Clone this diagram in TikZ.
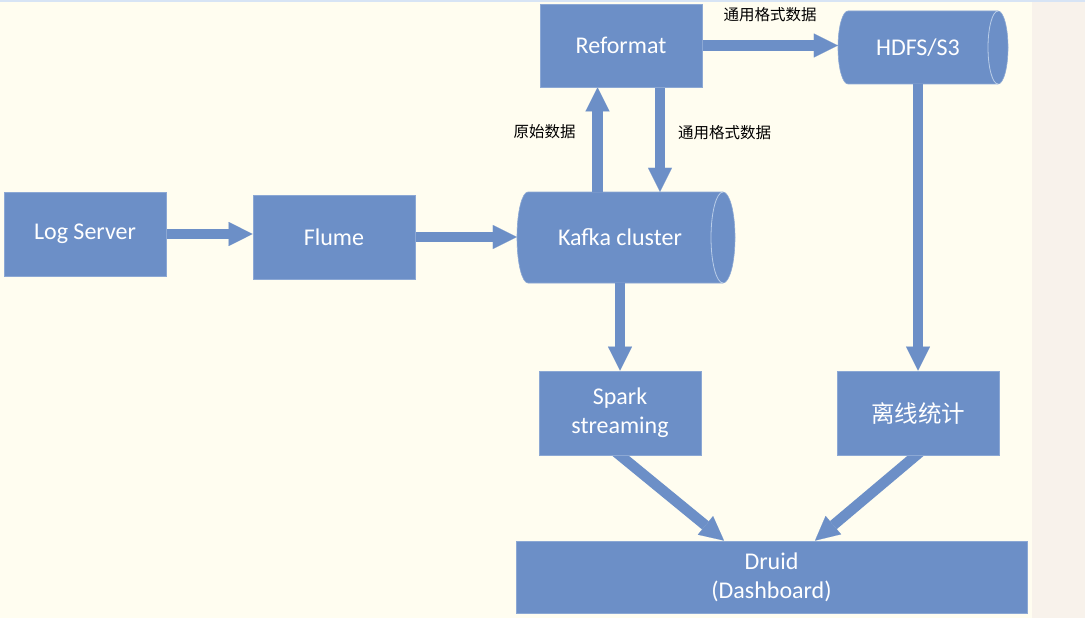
\documentclass[tikz,border=0pt]{standalone}
\usepackage{fontspec}
\setmainfont{Carlito}
\newfontfamily\cjk{Noto Sans CJK SC}
\usetikzlibrary{arrows.meta,backgrounds}
\definecolor{boxblue}{RGB}{108,143,199}
\definecolor{edgeblue}{RGB}{140,168,212}
\definecolor{innerline}{RGB}{185,205,232}
\definecolor{bgcream}{RGB}{255,253,240}
\definecolor{bgstrip}{RGB}{248,242,235}
\definecolor{topline}{RGB}{215,228,245}
\begin{document}
\begin{tikzpicture}[x=1pt,y=-1pt,
  box/.style={draw=edgeblue, line width=0.8pt, fill=boxblue, text=white,
    font=\fontsize{24}{29}\selectfont, align=center, inner sep=0pt},
  cylnode/.style={inner sep=0pt, text=white, font=\fontsize{24}{29}\selectfont},
  flow/.style={line width=10.5pt, draw=boxblue,
    -{Triangle[width=24pt,length=24pt,line width=0.1pt]}},
  lbl/.style={font=\cjk\fontsize{15.5}{18}\selectfont, text=black, inner sep=0pt},
  cylbody/.style={fill=boxblue, draw=edgeblue, line width=0.6pt},
  cylrim/.style={draw=innerline, line width=0.8pt}
]
\useasboundingbox (0,0) rectangle (1085,618);

% nodes
\node[box, minimum width=162pt, minimum height=84pt] (log) at (85,234) {Log Server};
\node[box, minimum width=162pt, minimum height=84pt] (flume) at (334,237) {Flume};
\node[box, minimum width=162pt, minimum height=83pt] (reformat) at (621,45.5) {Reformat};
\node[cylnode, minimum width=206pt, minimum height=91pt] (kafka) at (620,237.5) {Kafka cluster};
\node[cylnode, minimum width=160pt, minimum height=73pt] (hdfs) at (918,47.5) {HDFS/S3};
\node[box, minimum width=162pt, minimum height=84pt] (spark) at (620,413) {Spark\\streaming};
\node[box, minimum width=162pt, minimum height=84pt, font=\cjk\fontsize{23.5}{28}\selectfont] (offline) at (918,413) {离线统计};
\node[box, minimum width=511pt, minimum height=72pt] (druid) at (771.5,577) {Druid\\(Dashboard)};

% labels
\node[lbl] (l1) at (770,15) {通用格式数据};
\node[lbl] (l2) at (544.5,132) {原始数据};
\node[lbl] (l3) at (724.5,133) {通用格式数据};

\begin{scope}[on background layer]
  \fill[bgcream] (0,0) rectangle (1032,618);
  \fill[bgstrip] (1032,0) rectangle (1085,618);
  \fill[topline] (0,0) rectangle (1085,2);
  % Kafka cylinder
  \path[cylbody] (528,192) -- (723,192)
     arc[start angle=90, end angle=-90, x radius=12pt, y radius=45.5pt]
     -- (528,283)
     arc[start angle=270, end angle=90, x radius=11pt, y radius=45.5pt] -- cycle;
  % HDFS cylinder
  \path[cylbody] (848,11) -- (998,11)
     arc[start angle=90, end angle=-90, x radius=10pt, y radius=36.5pt]
     -- (848,84)
     arc[start angle=270, end angle=90, x radius=10pt, y radius=36.5pt] -- cycle;
  % connectors
  \draw[flow] (log.east) -- (log.east -| flume.west);
  \draw[flow] (flume.east) -- (flume.east -| kafka.west);
  \draw[flow] ([xshift=-22.5pt]kafka.north) -- ([xshift=-22.5pt]kafka.north |- reformat.south);
  \draw[flow] ([xshift=39pt]reformat.south) -- ([xshift=39pt]reformat.south |- kafka.north);
  \draw[flow] (reformat.east) -- (reformat.east -| hdfs.west);
  \draw[flow] (kafka.south) -- (spark.north);
  \draw[flow] (hdfs.south) -- (offline.north);
  \draw[flow] ([xshift=-6pt,yshift=5pt]spark.south) -- ([xshift=-47.5pt]druid.north);
  \draw[flow] ([xshift=4pt,yshift=5pt]offline.south) -- ([xshift=43.5pt]druid.north);
\end{scope}

% cylinder rims
\draw[cylrim] (723,192) arc[start angle=90, end angle=270, x radius=12pt, y radius=45.5pt];
\draw[cylrim] (998,11) arc[start angle=90, end angle=270, x radius=10pt, y radius=36.5pt];
\end{tikzpicture}
\end{document}
